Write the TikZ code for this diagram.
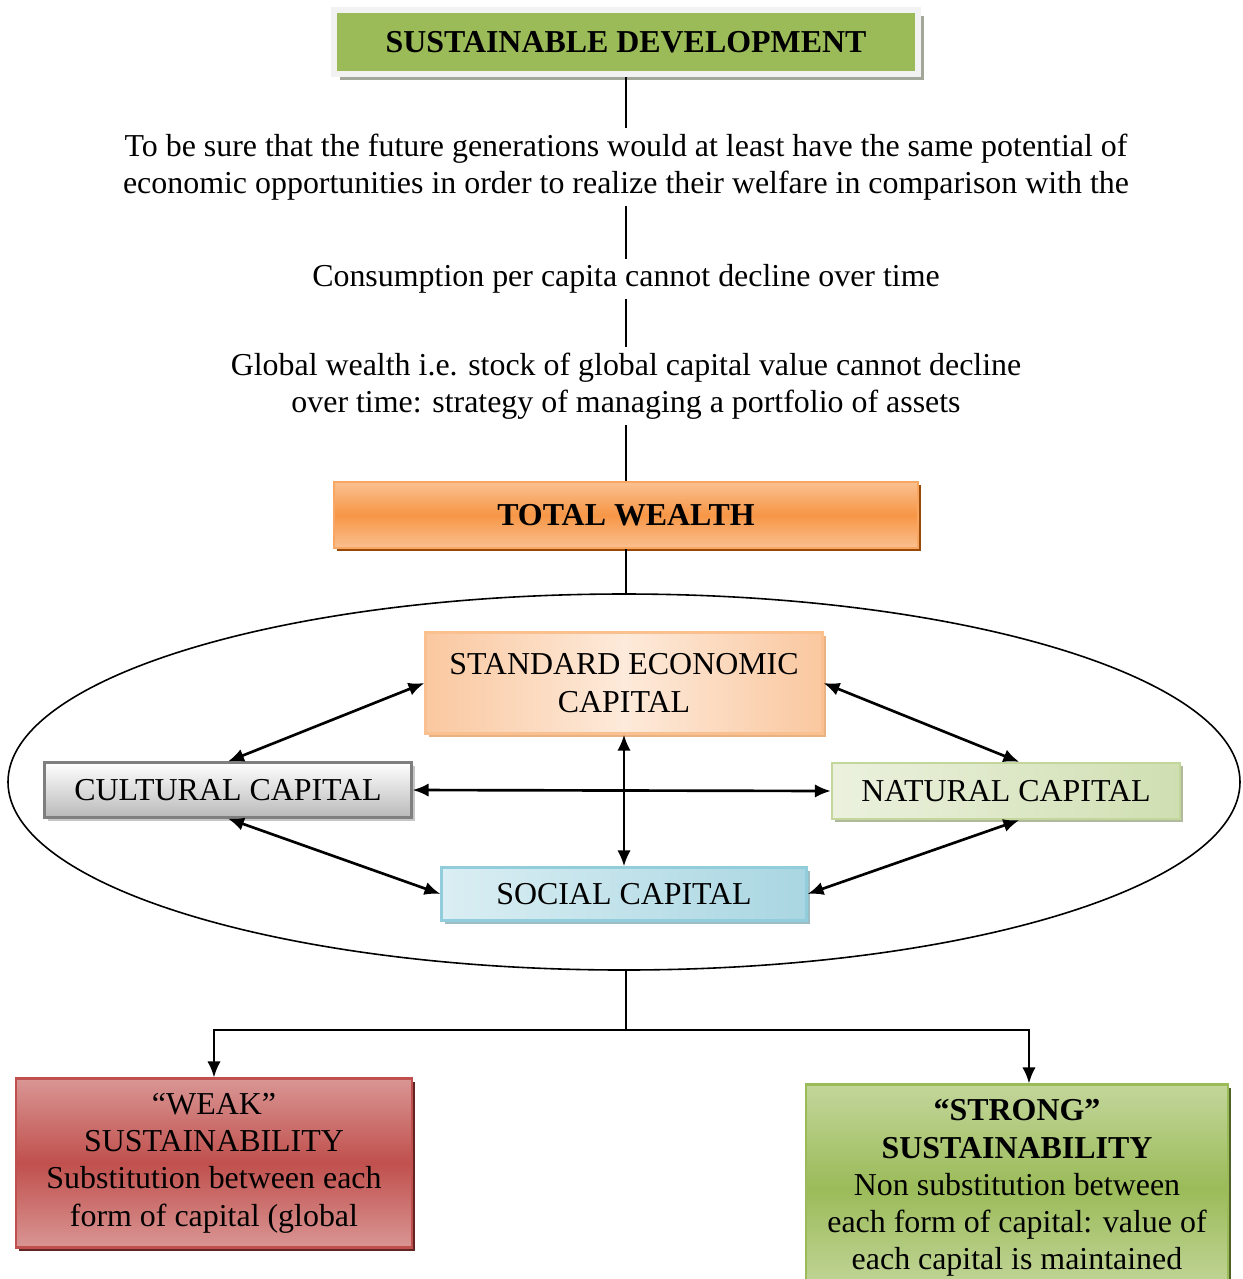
\documentclass[tikz,border=0pt]{standalone}
\usepackage{fontspec}
\setmainfont{Liberation Serif}
\usetikzlibrary{arrows.meta,shapes.geometric,shadows}

\definecolor{sdgreen}{HTML}{9BBB59}
\definecolor{sdframe}{HTML}{F2F2F2}
\definecolor{sdshade}{HTML}{A3A79A}
\definecolor{twlight}{HTML}{FAC090}
\definecolor{twmid}{HTML}{F79646}
\definecolor{twshade}{HTML}{984807}
\definecolor{seclight}{HTML}{FDEADA}
\definecolor{secdark}{HTML}{FAC8A0}
\definecolor{secedge}{HTML}{FAC090}
\definecolor{culedge}{HTML}{7F7F7F}
\definecolor{natlight}{HTML}{EBF1DE}
\definecolor{natdark}{HTML}{D0DFB2}
\definecolor{natedge}{HTML}{C3D69B}
\definecolor{soclight}{HTML}{DAEEF3}
\definecolor{socdark}{HTML}{A9D6E2}
\definecolor{socedge}{HTML}{92CDDC}
\definecolor{weaklight}{HTML}{D99694}
\definecolor{weakmid}{HTML}{C0504D}
\definecolor{weakshade}{HTML}{632523}
\definecolor{stronglight}{HTML}{C3D69B}
\definecolor{strongshade}{HTML}{4F6228}

\newcommand{\pxu}{0.376pt}

\tikzset{
  headbox/.style={fill=sdgreen, draw=sdframe, line width=2.2pt,
    general shadow={shadow xshift=2.4pt, shadow yshift=-2.4pt, fill=sdshade}},
  twbox/.style={top color=twlight, bottom color=twlight, middle color=twmid,
    draw=twmid!85, line width=0.8pt,
    general shadow={shadow xshift=1.2pt, shadow yshift=-1.2pt, fill=twshade}},
  capbox/.style={line width=0.8pt,
    general shadow={shadow xshift=1.2pt, shadow yshift=-1.2pt, fill=#1}},
  chain/.style={inner sep=2pt},
  flow/.style={line width=0.9pt},
  link/.style={<->, line width=1pt}
}

\begin{document}
\begin{tikzpicture}[x=0.376pt, y=-0.376pt, >={Latex[length=6pt,width=5pt]},
  every node/.style={font=\fontsize{12}{14}\selectfont, align=center}]
\useasboundingbox (0,0) rectangle (1242,1279);

% Top of the chain
\node[headbox, minimum width=584*\pxu, minimum height=64*\pxu] (sd) at (626,42) {\textbf{SUSTAINABLE DEVELOPMENT}};
\node[chain] (t1) at (626,167) {To be sure that the future generations would at least have the same potential of\\economic opportunities in order to realize their welfare in comparison with the};
\node[chain] (t2) at (626,279) {Consumption per capita cannot decline over time};
\node[chain] (t3) at (626,386) {Global wealth i.e. stock of global capital value cannot decline\\over time: strategy of managing a portfolio of assets};
\node[twbox, minimum width=584*\pxu, minimum height=66*\pxu] (tw) at (626,515) {\textbf{TOTAL WEALTH}};

\draw[flow] (sd) -- (t1);
\draw[flow] (t1) -- (t2);
\draw[flow] (t2) -- (t3);
\draw[flow] (t3) -- (tw);

% Ellipse with the four capitals
\node[draw, ellipse, line width=0.6pt, inner sep=0pt, minimum width=1232*\pxu, minimum height=376*\pxu] (ring) at (624,782) {};
\draw[flow] (tw.south) -- (tw.south |- ring.north);

\node[capbox=secdark!70!brown, left color=secdark, right color=secdark, middle color=seclight, draw=secedge,
  minimum width=397*\pxu, minimum height=101*\pxu] (sec) at (624,683) {STANDARD ECONOMIC\\CAPITAL};
\node[capbox=gray!45, top color=white, bottom color=gray!55, draw=culedge,
  minimum width=367*\pxu, minimum height=55*\pxu] (cul) at (228,790) {CULTURAL CAPITAL};
\node[capbox=natdark!60!gray, left color=natlight, right color=natdark, draw=natedge,
  minimum width=348*\pxu, minimum height=56*\pxu] (nat) at (1006,791) {NATURAL CAPITAL};
\node[capbox=socdark!70!gray, left color=soclight, right color=socdark, draw=socedge,
  minimum width=365*\pxu, minimum height=53*\pxu] (soc) at (624,894) {SOCIAL CAPITAL};

\draw[link] (sec.west) -- (cul.north);
\draw[link] (sec.east) -- ([xshift=5pt]nat.north);
\draw[link] (cul.east) -- (nat.west);
\draw[link] (sec.south) -- (soc.north);
\draw[link] (cul.south) -- (soc.west);
\draw[link] ([xshift=5pt]nat.south) -- (soc.east);

% Split to the two kinds of sustainability
\node[capbox=weakshade, top color=weaklight, bottom color=weaklight, middle color=weakmid, draw=weakmid,
  minimum width=396*\pxu, minimum height=169*\pxu] (weak) at (214,1163) {“WEAK”\\SUSTAINABILITY\\Substitution between each\\form of capital (global};
\node[capbox=strongshade, top color=stronglight, bottom color=stronglight, middle color=sdgreen, draw=sdgreen,
  minimum width=422*\pxu, minimum height=207*\pxu] (strong) at (1017,1188) {\textbf{“STRONG”}\\\textbf{SUSTAINABILITY}\\Non substitution between\\each form of capital: value of\\each capital is maintained};

\coordinate (split) at (626,1030);
\coordinate (rturn) at (1029,1030);
\draw[flow] (tw.south |- ring.south) -- (split);
\draw[flow,->] (split) -| (weak.north);
\draw[flow,->] (split) -- (rturn) -- (rturn |- strong.north);

\end{tikzpicture}
\end{document}
